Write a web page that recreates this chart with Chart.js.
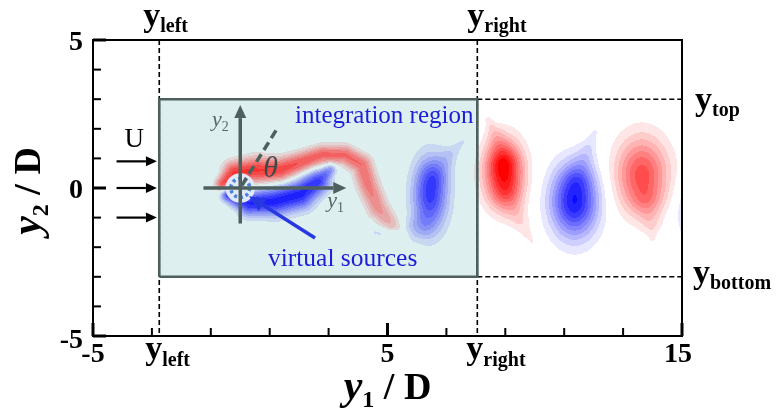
<!DOCTYPE html>
<html>
<head>
<meta charset="utf-8">
<script src="https://cdn.jsdelivr.net/npm/chart.js@4.4.1/dist/chart.umd.min.js"></script>
<style>
html, body { margin: 0; padding: 0; background: #fff; }
</style>
</head>
<body>
<canvas id="wake" width="779" height="408"></canvas>
<script>
// axis ranges and ticks (units of D)
const xRange = [-5, 15];
const yRange = [-5, 5];
const xTicks = [-5, -3, -1, 1, 3, 5, 7, 9, 11, 13, 15];
const xMajorTicks = [-5, 5, 15];
const yTicks = [-5, -4, -3, -2, -1, 0, 1, 2, 3, 4, 5];
const yMajorTicks = [-5, 0, 5];
const xTickLabels = ['-5', '5', '15'];
const yTickLabels = ['-5', '0', '5'];

// integration region
const regionX = [-2.75, 8.05];
const regionY = [-3, 3];

// vortex cores: centre, peak (+ red, - blue), spread
const vortexX = [6.45, 8.95, 11.35, 13.64, 15.6];
const vortexY = [-0.2, 0.5, -0.45, 0.45, -0.75];
const vortexAmp = [-0.85, 1.0, -1.0, 0.75, -0.5];
const vortexSx = [0.4, 0.47, 0.56, 0.62, 0.45];
const vortexSy = [0.82, 0.76, 0.84, 0.88, 0.7];

// shear layers and vortex tails, points as [y1, y2, peak, width]
const shearTop = [[-0.6, 0.15, 0.72, 0.16], [-0.2, 0.52, 0.82, 0.26], [0.5, 0.6, 0.82, 0.3], [1.35, 0.6, 0.78, 0.28],
  [2.05, 0.86, 0.7, 0.24], [2.78, 1.12, 0.65, 0.22], [3.56, 1.12, 0.62, 0.22], [4.13, 0.78, 0.6, 0.24],
  [4.34, 0.1, 0.55, 0.25], [4.68, -0.68, 0.45, 0.25], [5.15, -1.25, 0.3, 0.22], [5.6, -1.55, 0.15, 0.15]];
const shearBottom = [[-0.4, -0.25, -0.8, 0.16], [0.33, -0.52, -0.92, 0.28], [1.18, -0.45, -0.95, 0.33],
  [2.03, -0.22, -0.95, 0.34], [2.64, 0.22, -0.85, 0.28], [3.05, 0.62, -0.5, 0.15]];
const tailRed1Top = [[8.9, 1.0, 0.2, 0.34], [8.65, 1.8, 0.17, 0.2], [8.42, 2.3, 0.12, 0.1]];
const tailRed1Bottom = [[9.1, -0.3, 0.2, 0.34], [9.5, -1.1, 0.18, 0.25], [9.9, -1.8, 0.12, 0.12]];
const tailBlue2Top = [[11.5, 0.4, -0.2, 0.34], [11.8, 1.3, -0.17, 0.22], [12.05, 1.9, -0.12, 0.1]];
const tailRed3Bottom = [[13.8, -0.5, 0.2, 0.36], [13.95, -1.2, 0.15, 0.24], [14.0, -1.7, 0.11, 0.1]];
const tailBlue1Top = [[6.7, 0.5, -0.2, 0.32], [7.1, 1.1, -0.18, 0.22], [7.55, 1.55, -0.12, 0.1]];
const tailBlue1Low = [[6.1, -1.3, -0.2, 0.32], [5.4, -1.6, -0.17, 0.2], [4.6, -1.5, -0.12, 0.12]];
const bands = [shearTop, shearBottom, tailRed1Top, tailRed1Bottom, tailBlue2Top, tailRed3Bottom, tailBlue1Top, tailBlue1Low];

const slate = '#4e605d';
const serif = '"Liberation Serif", "Times New Roman", serif';

// vorticity at a point, sum of cores and bands
function fieldAt(X, Y) {
    var v = 0;
    for (var k = 0; k < vortexX.length; k++) {
        var dx = (X - vortexX[k]) / vortexSx[k];
        var dy = (Y - vortexY[k]) / vortexSy[k];
        v += vortexAmp[k] * Math.exp(-0.5 * (dx * dx + dy * dy));
    }
    bands.forEach(function (band) {
        var best = 0;
        for (var s = 0; s < band.length - 1; s++) {
            var p = band[s], q = band[s + 1];
            var ex = q[0] - p[0], ey = q[1] - p[1];
            var t = ((X - p[0]) * ex + (Y - p[1]) * ey) / (ex * ex + ey * ey);
            t = Math.max(0, Math.min(1, t));
            var cx = p[0] + t * ex, cy = p[1] + t * ey;
            var amp = p[2] + t * (q[2] - p[2]);
            var w = p[3] + t * (q[3] - p[3]);
            var d2 = (X - cx) * (X - cx) + (Y - cy) * (Y - cy);
            var c = amp * Math.exp(-d2 / (2 * w * w));
            if (Math.abs(c) > Math.abs(best)) best = c;
        }
        v += best;
    });
    return v;
}

// filled contours + region background
const fieldPlugin = {
    id: 'field',
    beforeDatasetsDraw(chart) {
        const ctx = chart.ctx, a = chart.chartArea, xs = chart.scales.x, ys = chart.scales.y;
        const left = Math.round(a.left), top = Math.round(a.top);
        const w = Math.round(a.right) - left, h = Math.round(a.bottom) - top;
        const img = ctx.createImageData(w, h);
        const rl = xs.getPixelForValue(regionX[0]), rr = xs.getPixelForValue(regionX[1]);
        const rt = ys.getPixelForValue(regionY[1]), rb = ys.getPixelForValue(regionY[0]);
        for (let j = 0; j < h; j++) {
            const py = top + j + 0.5;
            const Y = ys.getValueForPixel(py);
            for (let i = 0; i < w; i++) {
                const px = left + i + 0.5;
                const X = xs.getValueForPixel(px);
                const inside = px >= rl && px <= rr && py >= rt && py <= rb;
                const bg = inside ? [222, 239, 239] : [255, 255, 255];
                const v = fieldAt(X, Y);
                let lev = Math.floor(Math.abs(v) * 10) / 10;
                if (lev > 1) lev = 1;
                const col = v > 0 ? [255, 0, 0] : [10, 10, 255];
                const o = (j * w + i) * 4;
                for (let c = 0; c < 3; c++) img.data[o + c] = Math.round(bg[c] + (col[c] - bg[c]) * lev);
                img.data[o + 3] = 255;
            }
        }
        ctx.putImageData(img, left, top);
    }
};

function arrow(ctx, x0, y0, x1, y1, len, half, color, lw) {
    const ang = Math.atan2(y1 - y0, x1 - x0);
    const bx = x1 - len * Math.cos(ang), by = y1 - len * Math.sin(ang);
    ctx.strokeStyle = color; ctx.fillStyle = color; ctx.lineWidth = lw;
    ctx.beginPath(); ctx.moveTo(x0, y0); ctx.lineTo(bx, by); ctx.stroke();
    ctx.beginPath();
    ctx.moveTo(x1, y1);
    ctx.lineTo(bx + half * Math.sin(ang), by - half * Math.cos(ang));
    ctx.lineTo(bx - half * Math.sin(ang), by + half * Math.cos(ang));
    ctx.closePath(); ctx.fill();
}

function runs(ctx, x, base, parts, align) {
    let total = 0;
    parts.forEach(function (p) { ctx.font = p[1]; total += ctx.measureText(p[0]).width; });
    let cx = align === 'center' ? x - total / 2 : x;
    ctx.textAlign = 'left'; ctx.textBaseline = 'alphabetic';
    parts.forEach(function (p) {
        ctx.font = p[1];
        ctx.fillText(p[0], cx, base + (p[2] || 0));
        cx += ctx.measureText(p[0]).width;
    });
}

// cylinder, local axes, labels in the flow
const sketchPlugin = {
    id: 'sketch',
    afterDatasetsDraw(chart) {
        const ctx = chart.ctx, xs = chart.scales.x, ys = chart.scales.y;
        const X = function (v) { return xs.getPixelForValue(v); };
        const Y = function (v) { return ys.getPixelForValue(v); };
        const unit = X(1) - X(0);
        ctx.save();
        // cylinder with the ring of virtual sources
        ctx.fillStyle = '#dfe9f8';
        ctx.beginPath(); ctx.arc(X(0), Y(0), 0.5 * unit, 0, 2 * Math.PI); ctx.fill();
        ctx.strokeStyle = '#4a7fe0'; ctx.lineWidth = 3.5; ctx.setLineDash([3, 3]);
        ctx.beginPath(); ctx.arc(X(0), Y(0), 0.32 * unit, 0, 2 * Math.PI); ctx.stroke();
        // theta direction
        ctx.strokeStyle = slate; ctx.lineWidth = 3.5; ctx.setLineDash([9, 5]);
        ctx.beginPath(); ctx.moveTo(X(0.05), Y(0.08)); ctx.lineTo(X(1.28), Y(2.05)); ctx.stroke();
        ctx.setLineDash([]);
        // local axes
        arrow(ctx, X(-1.25), Y(0), X(3.6), Y(0), 13, 6, slate, 3.5);
        arrow(ctx, X(0), Y(-1.2), X(0), Y(2.8), 13, 6, slate, 3.5);
        ctx.fillStyle = '#59676a';
        runs(ctx, X(-0.96), Y(2.1), [['y', 'italic 22px ' + serif], ['2', '14px ' + serif, 5]]);
        runs(ctx, X(2.95), Y(-0.64), [['y', 'italic 22px ' + serif], ['1', '14px ' + serif, 5]]);
        ctx.fillStyle = '#3e4a4a';
        runs(ctx, X(0.78), Y(0.38), [['\u03b8', 'italic 30px ' + serif]]);
        // free stream
        ctx.fillStyle = '#000';
        runs(ctx, X(-3.6), Y(1.38), [['U', '27px ' + serif]], 'center');
        [0.9, 0, -1].forEach(function (v) {
            arrow(ctx, X(-4.2), Y(v), X(-2.83), Y(v), 11, 5, '#000', 2.2);
        });
        // blue annotations
        arrow(ctx, X(2.54), Y(-1.69), X(0.3), Y(-0.28), 16, 7.5, '#2838e0', 3.5);
        ctx.fillStyle = '#1c1ed8';
        runs(ctx, X(1.86), Y(2.2), [['integration region', '25px ' + serif]]);
        runs(ctx, X(0.94), Y(-2.64), [['virtual sources', '25.5px ' + serif]]);
        ctx.restore();
    }
};

// frame, inward ticks, labels
const axesPlugin = {
    id: 'frame',
    afterDraw(chart) {
        const ctx = chart.ctx, a = chart.chartArea, xs = chart.scales.x, ys = chart.scales.y;
        ctx.save();
        ctx.strokeStyle = '#000'; ctx.fillStyle = '#000';
        ctx.lineWidth = 2;
        ctx.strokeRect(a.left, a.top, a.right - a.left, a.bottom - a.top);
        yTicks.forEach(function (v) {
            const major = yMajorTicks.indexOf(v) >= 0;
            const p = ys.getPixelForValue(v);
            ctx.lineWidth = major ? 3 : 2;
            ctx.beginPath(); ctx.moveTo(a.left, p); ctx.lineTo(a.left + (major ? 13 : 8), p); ctx.stroke();
        });
        xTicks.forEach(function (v) {
            const major = xMajorTicks.indexOf(v) >= 0;
            const p = xs.getPixelForValue(v);
            ctx.lineWidth = major ? 3 : 2;
            ctx.beginPath(); ctx.moveTo(p, a.bottom); ctx.lineTo(p, a.bottom - (major ? 13 : 8)); ctx.stroke();
        });
        const tickFont = 'bold 28px ' + serif;
        ctx.font = tickFont; ctx.textBaseline = 'alphabetic';
        ctx.textAlign = 'right';
        yMajorTicks.forEach(function (v, i) {
            ctx.fillText(yTickLabels[i], a.left - 10, ys.getPixelForValue(v) + (v < 0 ? 12 : 10));
        });
        ctx.textAlign = 'center';
        xMajorTicks.forEach(function (v, i) {
            ctx.fillText(xTickLabels[i], xs.getPixelForValue(v) - (v === 15 ? 4 : 0), a.bottom + 26);
        });
        // boundary names
        const big = 'bold 34px ' + serif, small = 'bold 20px ' + serif;
        const pl = xs.getPixelForValue(regionX[0]), pr = xs.getPixelForValue(regionX[1]);
        runs(ctx, pl - 16, a.top - 14, [['y', big], ['left', small, 6]]);
        runs(ctx, pr - 10, a.top - 14, [['y', big], ['right', small, 6]]);
        runs(ctx, pl - 14, a.bottom + 23, [['y', big], ['left', small, 7]]);
        runs(ctx, pr - 11, a.bottom + 23, [['y', big], ['right', small, 7]]);
        runs(ctx, a.right + 13, ys.getPixelForValue(regionY[1]) + 11, [['y', big], ['top', small, 6]]);
        runs(ctx, a.right + 11, ys.getPixelForValue(regionY[0]) + 6, [['y', big], ['bottom', small, 6]]);
        // axis titles
        const title = [['y', 'bold italic 42px ' + serif], ['1', 'bold 24px ' + serif, 8], [' / D', 'bold 38px ' + serif]];
        runs(ctx, xs.getPixelForValue(5), 399, title, 'center');
        ctx.translate(40, 191);
        ctx.rotate(-Math.PI / 2);
        runs(ctx, 0, 0, [['y', 'bold italic 42px ' + serif], ['2', 'bold 24px ' + serif, 8], [' / D', 'bold 38px ' + serif]], 'center');
        ctx.restore();
    }
};

function line(points, dashed, order) {
    return {
        data: points, showLine: true, pointRadius: 0, fill: false, order: order,
        borderColor: dashed ? '#000' : slate, borderWidth: dashed ? 1.6 : 2.6,
        borderDash: dashed ? [5, 3] : []
    };
}

const ctx = document.getElementById('wake').getContext('2d');
new Chart(ctx, {
    type: 'scatter',
    data: {
        datasets: [
            line([{ x: regionX[0], y: regionY[0] }, { x: regionX[0], y: regionY[1] }, { x: regionX[1], y: regionY[1] },
                { x: regionX[1], y: regionY[0] }, { x: regionX[0], y: regionY[0] }], false, 0),
            line([{ x: regionX[0], y: yRange[1] }, { x: regionX[0], y: yRange[0] }], true, 1),
            line([{ x: regionX[1], y: yRange[1] }, { x: regionX[1], y: yRange[0] }], true, 1),
            line([{ x: regionX[1], y: regionY[1] }, { x: xRange[1], y: regionY[1] }], true, 1),
            line([{ x: regionX[1], y: regionY[0] }, { x: xRange[1], y: regionY[0] }], true, 1)
        ]
    },
    options: {
        responsive: false,
        devicePixelRatio: 1,
        animation: false,
        events: [],
        layout: { padding: { left: 93, right: 97, top: 40, bottom: 72 } },
        plugins: { legend: { display: false }, tooltip: { enabled: false } },
        scales: {
            x: { type: 'linear', min: xRange[0], max: xRange[1], display: false },
            y: { type: 'linear', min: yRange[0], max: yRange[1], display: false }
        }
    },
    plugins: [fieldPlugin, sketchPlugin, axesPlugin]
});
</script>
</body>
</html>
